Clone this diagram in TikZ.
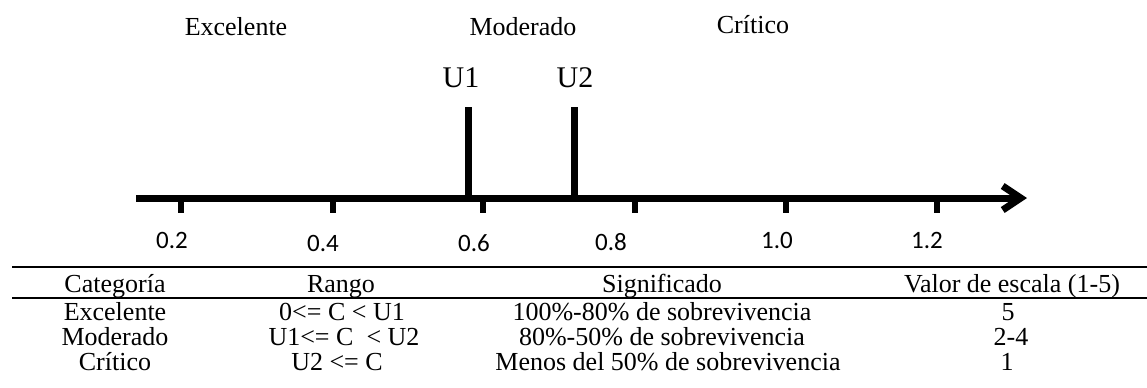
\documentclass[tikz,border=0pt]{standalone}
\usepackage{fontspec}
\setmainfont{Liberation Serif}
\newfontfamily\numfont{Carlito}
\usetikzlibrary{arrows.meta}
\begin{document}
\begin{tikzpicture}[x=0.5pt,y=-0.5pt,
  toplabel/.style={anchor=base,inner sep=0pt,font=\fontsize{13}{15}\selectfont},
  ulabel/.style={anchor=base,inner sep=0pt,font=\fontsize{15}{18}\selectfont},
  numlabel/.style={anchor=base,inner sep=0pt,font=\numfont\fontsize{12.5}{15}\selectfont},
  cell/.style={anchor=base,inner sep=0pt,font=\fontsize{13}{15}\selectfont},
  axisline/.style={line width=3.5pt,-{Straight Barb[length=9pt,width=12pt]}},
  tickmark/.style={line width=3pt},
  barmark/.style={line width=3.5pt},
  rulemark/.style={line width=1.25pt}]
\useasboundingbox (0,0) rectangle (1147,387);

% top category labels
\node[toplabel] (lexc) at (236,35) {Excelente};
\node[toplabel] (lmod) at (523,35) {Moderado};
\node[toplabel] (lcri) at (753,33) {Crítico};

% thresholds
\node[ulabel] (lu1) at (461,87) {U1};
\node[ulabel] (lu2) at (575,87) {U2};

% axis
\coordinate (astart) at (136,198);
\coordinate (aend) at (1027,198);
\draw[axisline] (astart) -- (aend);

% threshold bars
\coordinate (b1top) at (468,107);
\coordinate (b1bot) at (468,198);
\coordinate (b2top) at (574,107);
\coordinate (b2bot) at (574,198);
\draw[barmark] (b1top) -- (b1bot);
\draw[barmark] (b2top) -- (b2bot);

% ticks
\foreach \x/\nm in {181/t2,333/t4,483/t6,635/t8,786/t10,937/t12}{
  \coordinate (\nm a) at (\x,198);
  \coordinate (\nm b) at (\x,213);
  \draw[tickmark] (\nm a) -- (\nm b);
}

% tick labels
\node[numlabel] (n2) at (172,248) {0.2};
\node[numlabel] (n4) at (323,251) {0.4};
\node[numlabel] (n6) at (474,251) {0.6};
\node[numlabel] (n8) at (611,250) {0.8};
\node[numlabel] (n10) at (777,248) {1.0};
\node[numlabel] (n12) at (927,248) {1.2};

% table rules
\coordinate (r1l) at (12,267);
\coordinate (r1r) at (1147,267);
\coordinate (r2l) at (12,298);
\coordinate (r2r) at (1147,298);
\draw[rulemark] (r1l) -- (r1r);
\draw[rulemark] (r2l) -- (r2r);

% header
\node[cell] (hcat) at (115,292) {Categoría};
\node[cell] (hran) at (341,292) {Rango};
\node[cell] (hsig) at (662,292) {Significado};
\node[cell] (hval) at (1012,292) {Valor de escala (1-5)};

% rows
\node[cell] (c11) at (115,320) {Excelente};
\node[cell] (c12) at (342,320) {0<= C < U1};
\node[cell] (c13) at (662,320) {100\%-80\% de sobrevivencia};
\node[cell] (c14) at (1008,320) {5};

\node[cell] (c21) at (115,345) {Moderado};
\node[cell] (c22) at (344,345) {U1<= C~ < U2};
\node[cell] (c23) at (662,345) {80\%-50\% de sobrevivencia};
\node[cell] (c24) at (1011,345) {2-4};

\node[cell] (c31) at (115,370) {Crítico};
\node[cell] (c32) at (337,370) {U2 <= C};
\node[cell] (c33) at (668,370) {Menos del 50\% de sobrevivencia};
\node[cell] (c34) at (1007,370) {1};
\end{tikzpicture}
\end{document}
